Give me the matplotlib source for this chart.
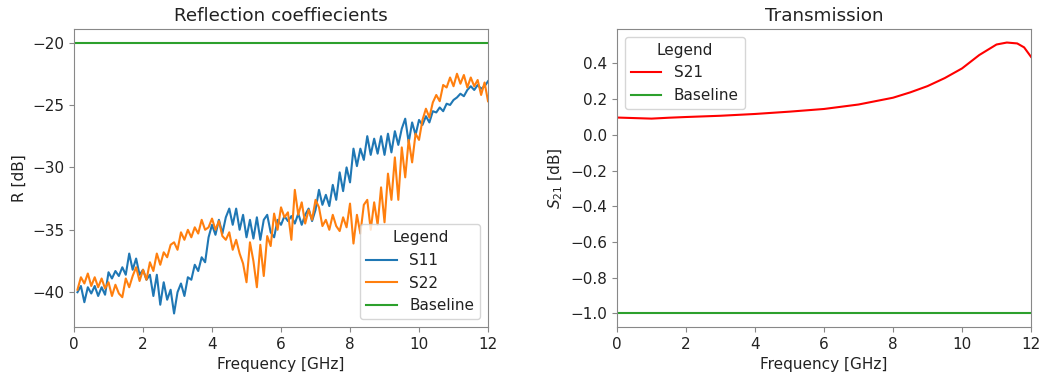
import numpy as np
import matplotlib
matplotlib.use("Agg")
import matplotlib.pyplot as plt
from matplotlib.ticker import MultipleLocator

plt.rcParams['font.size'] = 11
plt.rcParams['axes.edgecolor'] = '#888888'
plt.rcParams['xtick.color'] = '#888888'
plt.rcParams['ytick.color'] = '#888888'
plt.rcParams['xtick.labelcolor'] = '#222222'
plt.rcParams['ytick.labelcolor'] = '#222222'
plt.rcParams['text.color'] = '#222222'
plt.rcParams['axes.labelcolor'] = '#222222'

# frequency grid for the reflection measurements [GHz]
freq = np.round(np.arange(0.1, 12.01, 0.1), 1)

s11 = [-40.0, -39.5, -40.8, -39.6, -40.1, -39.5, -40.3, -39.6, -40.2, -38.4,
       -38.9, -38.3, -38.7, -38.0, -38.6, -36.9, -38.2, -37.3, -38.6, -38.2,
       -39.0, -38.6, -40.3, -38.6, -41.0, -39.2, -40.6, -39.8, -41.7, -40.0,
       -39.3, -40.3, -38.8, -39.0, -37.8, -38.3, -37.2, -37.6, -35.6, -34.6,
       -35.4, -34.2, -35.3, -34.0, -33.3, -34.6, -33.3, -35.0, -33.8, -35.6,
       -34.2, -35.7, -34.0, -35.8, -34.2, -33.8, -35.2, -35.6, -34.2, -34.6,
       -33.9, -34.3, -33.9, -34.5, -33.7, -34.6, -33.8, -33.3, -34.3, -33.4,
       -31.8, -33.0, -32.2, -33.1, -31.4, -32.6, -30.4, -31.9, -30.0, -31.2,
       -28.5, -29.9, -28.5, -29.4, -27.5, -29.0, -27.7, -28.9, -27.5, -29.0,
       -27.3, -28.8, -27.1, -28.2, -26.9, -26.1, -28.0, -26.4, -27.4, -26.2,
       -26.6, -25.9, -26.4, -25.5, -25.6, -25.2, -25.5, -24.9, -25.0, -24.6,
       -24.4, -24.1, -24.3, -23.8, -23.5, -23.8, -23.4, -23.7, -23.5, -23.1]

s22 = [-39.8, -38.8, -39.3, -38.5, -39.5, -38.8, -39.6, -38.9, -39.7, -39.2,
       -40.3, -39.4, -40.1, -40.4, -38.9, -39.6, -38.7, -38.0, -39.1, -38.2,
       -39.0, -37.6, -38.3, -36.9, -37.8, -36.8, -37.2, -36.2, -36.0, -36.6,
       -35.2, -35.8, -35.0, -35.6, -34.8, -35.3, -34.2, -35.0, -34.8, -34.1,
       -35.0, -34.3, -35.5, -35.8, -35.2, -36.6, -35.8, -36.9, -37.7, -39.2,
       -36.0, -37.5, -39.6, -36.2, -38.7, -35.5, -36.3, -33.7, -35.0, -33.2,
       -34.0, -33.6, -35.8, -31.8, -33.8, -32.8, -34.5, -33.4, -34.2, -32.6,
       -33.2, -34.7, -34.2, -35.0, -33.8, -34.7, -35.1, -34.0, -34.8, -32.9,
       -36.1, -33.8, -35.3, -33.0, -32.6, -35.0, -32.8, -34.6, -31.6, -34.4,
       -30.5, -32.6, -29.2, -32.6, -28.4, -30.8, -27.8, -29.6, -27.3, -27.8,
       -26.2, -25.3, -26.0, -24.8, -24.2, -24.7, -23.4, -23.6, -22.8, -23.5,
       -22.5, -23.3, -22.6, -23.6, -22.8, -23.5, -23.0, -24.2, -23.2, -24.7]

refl_baseline = -20

# transmission
freq_t = [0.0, 0.5, 1.0, 1.5, 2.0, 3.0, 4.0, 5.0, 6.0, 7.0, 8.0, 8.5, 9.0,
          9.5, 10.0, 10.5, 11.0, 11.3, 11.6, 11.8, 12.0]
s21 = [0.097, 0.094, 0.091, 0.096, 0.100, 0.107, 0.117, 0.130, 0.145, 0.170,
       0.208, 0.238, 0.273, 0.318, 0.372, 0.447, 0.506, 0.517, 0.512, 0.490,
       0.437]
trans_baseline = -1.0

fig = plt.figure(figsize=(10.41, 3.76), dpi=100)
ax1 = fig.add_axes([0.0711, 0.1303, 0.3977, 0.7926])
ax2 = fig.add_axes([0.5927, 0.1303, 0.3977, 0.7926])

ax1.plot(freq, s11, color='#1f77b4', label='S11')
ax1.plot(freq, s22, color='#ff7f0e', label='S22')
ax1.plot([0, 12], [refl_baseline, refl_baseline], color='#2ca02c', label='Baseline')
ax1.set_xlim(0, 12)
ax1.set_xlabel('Frequency [GHz]')
ax1.set_ylabel('R [dB]')
ax1.set_title('Reflection coeffiecients')
ax1.legend(title='Legend', loc='lower right')

ax2.plot(freq_t, s21, color='red', label='S21')
ax2.plot([0, 12], [trans_baseline, trans_baseline], color='#2ca02c', label='Baseline')
ax2.set_xlim(0, 12)
ax2.yaxis.set_major_locator(MultipleLocator(0.2))
ax2.set_xlabel('Frequency [GHz]')
ax2.set_ylabel('$S_{21}$ [dB]')
ax2.set_title('Transmission')
ax2.legend(title='Legend', loc='upper left')

fig.savefig('out.png', dpi=100)
